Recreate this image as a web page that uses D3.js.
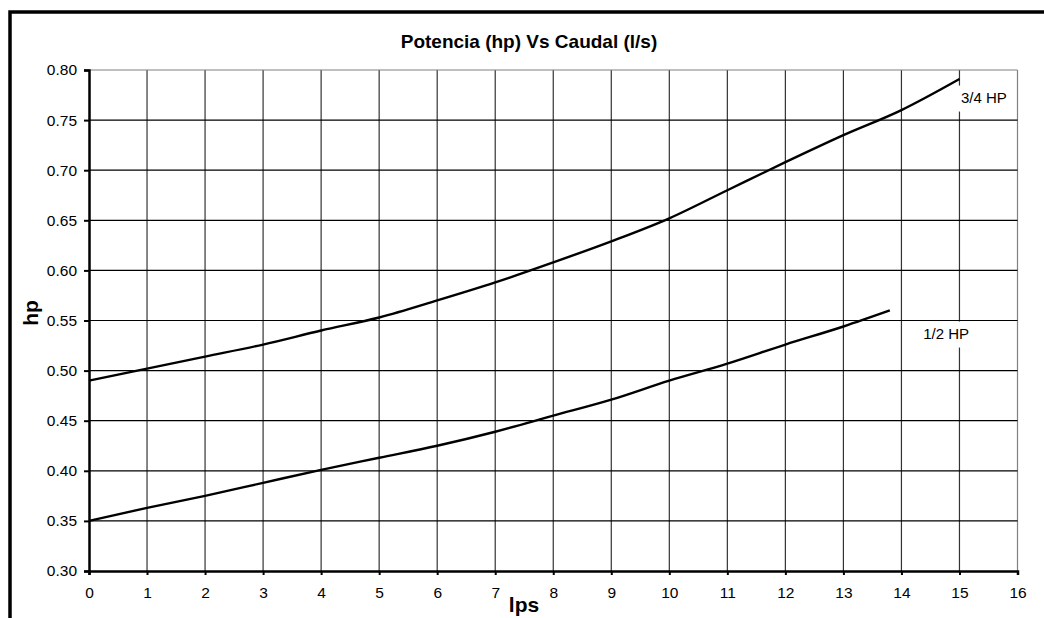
<!DOCTYPE html>
<html>
<head>
<meta charset="utf-8">
<script src="https://cdn.jsdelivr.net/npm/d3@7.9.0/dist/d3.min.js"></script>
<style>
  body { margin: 0; background: #fff; }
  svg { display: block; font-family: "Liberation Sans", Arial, sans-serif; }
</style>
</head>
<body>
<svg id="chart" width="1044" height="618"></svg>
<script>
// caudal (l/s) and potencia (hp)
const flow34 = [0, 1, 2, 3, 4, 5, 6, 7, 8, 9, 10, 11, 12, 13, 14, 15];
const hp34 = [0.490, 0.502, 0.514, 0.526, 0.540, 0.553, 0.570, 0.588, 0.608, 0.629, 0.652, 0.680, 0.708, 0.735, 0.760, 0.791];

const flow12 = [0, 1, 2, 3, 4, 5, 6, 7, 8, 9, 10, 11, 12, 13, 13.8];
const hp12 = [0.350, 0.363, 0.375, 0.388, 0.401, 0.413, 0.425, 0.439, 0.455, 0.471, 0.490, 0.507, 0.526, 0.544, 0.560];

const seriesNames = ['3/4 HP', '1/2 HP'];
const xTicks = d3.range(0, 17, 1);
const yTicks = [0.30, 0.35, 0.40, 0.45, 0.50, 0.55, 0.60, 0.65, 0.70, 0.75, 0.80];

const svg = d3.select('#chart');

// outer chart frame (cut by the window on the right and bottom)
svg.append('rect')
  .attr('x', 10).attr('y', 12)
  .attr('width', 1200).attr('height', 800)
  .attr('fill', '#fff')
  .attr('stroke', '#000')
  .attr('stroke-width', 3.5);

const x = d3.scaleLinear().domain([0, 16]).range([89, 1017.5]);
const y = d3.scaleLinear().domain([0.30, 0.80]).range([571, 70]);

// grid
const grid = svg.append('g');
grid.selectAll('line.v')
  .data(xTicks.slice(1))
  .join('line')
  .attr('x1', (d) => x(d)).attr('x2', (d) => x(d))
  .attr('y1', y(0.80)).attr('y2', y(0.30))
  .attr('stroke', (d) => (d === 16 ? '#808080' : '#333'))
  .attr('stroke-width', 1.2);
grid.selectAll('line.h')
  .data(yTicks.slice(1))
  .join('line')
  .attr('x1', x(0)).attr('x2', x(16))
  .attr('y1', (d) => y(d)).attr('y2', (d) => y(d))
  .attr('stroke', (d) => (d === 0.80 ? '#808080' : '#000'))
  .attr('stroke-width', 1.2);

// axes
const xAxis = svg.append('g')
  .attr('transform', `translate(0,${y(0.30)})`)
  .call(d3.axisBottom(x).tickValues(xTicks).tickFormat(d3.format('d')).tickSize(4).tickPadding(12));
const yAxis = svg.append('g')
  .attr('transform', `translate(${x(0)},0)`)
  .call(d3.axisLeft(y).tickValues(yTicks).tickFormat(d3.format('.2f')).tickSize(5).tickPadding(7));

[xAxis, yAxis].forEach((ax) => {
  ax.select('.domain').attr('stroke', '#000').attr('stroke-width', 2.5);
  ax.selectAll('.tick line').attr('stroke', '#000').attr('stroke-width', 2);
  ax.selectAll('.tick text')
    .attr('fill', '#000')
    .style('font-size', '15.5px')
    .style('font-family', '"Liberation Sans", Arial, sans-serif');
});

// curves
const line = d3.line()
  .x((d) => x(d[0]))
  .y((d) => y(d[1]))
  .curve(d3.curveMonotoneX);

const series = [
  d3.zip(flow34, hp34),
  d3.zip(flow12, hp12),
];

svg.append('g')
  .selectAll('path')
  .data(series)
  .join('path')
  .attr('d', line)
  .attr('fill', 'none')
  .attr('stroke', '#000')
  .attr('stroke-width', 2.4);

// series labels with white boxes
const labelPos = [[15.42, 0.773], [14.77, 0.5375]];
seriesNames.forEach((name, i) => {
  const cx = x(labelPos[i][0]);
  const cy = y(labelPos[i][1]);
  svg.append('rect')
    .attr('x', cx - 29).attr('y', cy - 11.5)
    .attr('width', 58).attr('height', 26)
    .attr('fill', '#fff');
  svg.append('text')
    .attr('x', cx).attr('y', cy)
    .attr('text-anchor', 'middle')
    .attr('dominant-baseline', 'central')
    .style('font-size', '15px')
    .text(name);
});

// titles
svg.append('text')
  .attr('x', 529).attr('y', 48)
  .attr('text-anchor', 'middle')
  .style('font-size', '19px')
  .style('font-weight', 'bold')
  .text('Potencia (hp) Vs Caudal (l/s)');

svg.append('text')
  .attr('transform', 'translate(38,313) rotate(-90)')
  .attr('text-anchor', 'middle')
  .style('font-size', '21px')
  .style('font-weight', 'bold')
  .text('hp');

svg.append('text')
  .attr('x', 524).attr('y', 612)
  .attr('text-anchor', 'middle')
  .style('font-size', '21px')
  .style('font-weight', 'bold')
  .text('lps');
</script>
</body>
</html>
